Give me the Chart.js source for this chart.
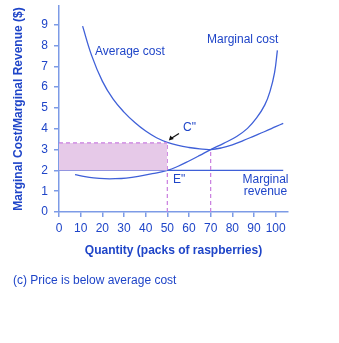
<!DOCTYPE html>
<html>
<head>
<meta charset="utf-8">
<script src="https://cdn.jsdelivr.net/npm/chart.js@4"></script>
<style>
  html, body { margin: 0; padding: 0; background: #fff; }
  #wrap { width: 339px; height: 343px; }
</style>
</head>
<body>
<div id="wrap"><canvas id="costChart" width="339" height="343"></canvas></div>
<script>
// quantity ticks / values
const xTicks = [0, 10, 20, 30, 40, 50, 60, 70, 80, 90, 100];
const yTicks = [0, 1, 2, 3, 4, 5, 6, 7, 8, 9];

const acQty = [10.9, 15, 20, 25, 30, 35, 40, 45, 50, 55, 60, 65, 70, 75, 80, 85, 90, 95, 100, 103.5];
const acCost = [8.93, 7.54, 6.29, 5.42, 4.8, 4.3, 3.89, 3.57, 3.35, 3.2, 3.1, 3.03, 3.0, 3.08, 3.23, 3.43, 3.65, 3.87, 4.1, 4.26];

const mcQty = [7.4, 12, 16, 21, 26, 31, 36.6, 43, 50, 55, 60, 65, 70, 76, 82, 87, 91.2, 95, 97.4, 99.5, 100.8];
const mcCost = [1.8, 1.7, 1.64, 1.6, 1.6, 1.63, 1.71, 1.84, 2.0, 2.2, 2.45, 2.72, 3.0, 3.3, 3.63, 4.02, 4.52, 5.15, 5.8, 6.7, 7.77];

const mrQty = [0, 103.5];
const mrPrice = [2, 2];

const lossQty = [0, 50];
const lossTop = [3.32, 3.32];
const dropQ1 = [50, 50], dropV1 = [0, 3.32];
const dropQ2 = [70, 70], dropV2 = [0, 3.0];

const BLUE = "#3f60d8";
const AXIS = "#7d9be6";
const TEXT = "#1f45c8";
const DASH = "#c97ddf";

function pts(xs, ys) {
    return xs.map((x, i) => ({ x: x, y: ys[i] }));
}

// labels, arrow and caption drawn on top
const notes = {
    id: "notes",
    afterDraw(chart) {
        const ctx = chart.ctx;
        const x = chart.scales.x, y = chart.scales.y;
        ctx.save();
        ctx.fillStyle = TEXT;
        ctx.font = "12px 'Liberation Sans', Arial, sans-serif";
        ctx.textBaseline = "middle";
        ctx.textAlign = "left";
        ctx.fillText("Average cost", 95, 51.5);
        ctx.fillText("Marginal cost", 207, 40);
        ctx.fillText("C\"", 183, 128);
        ctx.fillText("E\"", 173, 180);
        ctx.textAlign = "center";
        ctx.fillText("Marginal", 265.5, 180);
        ctx.fillText("revenue", 265.5, 192);
        ctx.textAlign = "left";
        ctx.fillText("(c) Price is below average cost", 13, 281);

        // arrow to C"
        const tx = x.getPixelForValue(50) + 1.5, ty = y.getPixelForValue(3.36) - 1.5;
        ctx.strokeStyle = "#111";
        ctx.fillStyle = "#111";
        ctx.lineWidth = 1.2;
        ctx.beginPath();
        ctx.moveTo(179, 133.5);
        ctx.lineTo(tx + 3, ty - 2.5);
        ctx.stroke();
        ctx.beginPath();
        ctx.moveTo(tx, ty);
        ctx.lineTo(tx + 1.5, ty - 5);
        ctx.lineTo(tx + 5, ty - 1.5);
        ctx.closePath();
        ctx.fill();
        ctx.restore();
    }
};

const ctx = document.getElementById("costChart").getContext("2d");
new Chart(ctx, {
    type: "line",
    data: {
        datasets: [
            {
                label: "Loss area",
                data: pts(lossQty, lossTop),
                borderColor: DASH,
                borderWidth: 1.2,
                borderDash: [4, 3],
                backgroundColor: "#e6c9e8",
                fill: { value: 2 },
                pointRadius: 0
            },
            {
                label: "Drop at 50",
                data: pts(dropQ1, dropV1),
                borderColor: DASH,
                borderWidth: 1.2,
                borderDash: [4, 3],
                pointRadius: 0,
                fill: false
            },
            {
                label: "Drop at 70",
                data: pts(dropQ2, dropV2),
                borderColor: DASH,
                borderWidth: 1.2,
                borderDash: [4, 3],
                pointRadius: 0,
                fill: false
            },
            {
                label: "Marginal revenue",
                data: pts(mrQty, mrPrice),
                borderColor: BLUE,
                borderWidth: 1.3,
                pointRadius: 0,
                fill: false
            },
            {
                label: "Average cost",
                data: pts(acQty, acCost),
                borderColor: BLUE,
                borderWidth: 1.3,
                pointRadius: 0,
                tension: 0.4,
                fill: false
            },
            {
                label: "Marginal cost",
                data: pts(mcQty, mcCost),
                borderColor: BLUE,
                borderWidth: 1.3,
                pointRadius: 0,
                tension: 0.4,
                fill: false
            }
        ]
    },
    options: {
        responsive: false,
        animation: false,
        events: [],
        layout: { padding: { left: 7, top: 6, right: 51, bottom: 81 } },
        plugins: {
            legend: { display: false },
            tooltip: { enabled: false }
        },
        scales: {
            x: {
                type: "linear",
                min: 0,
                max: 105.7,
                afterBuildTicks: s => { s.ticks = xTicks.map(v => ({ value: v })); },
                afterFit: s => { s.height = 50; },
                grid: { drawOnChartArea: false, drawTicks: true, tickLength: 5, color: AXIS, lineWidth: 1.5 },
                border: { color: AXIS, width: 1.5 },
                ticks: { color: TEXT, font: { size: 12, family: "'Liberation Sans', Arial" }, padding: 4, maxRotation: 0, autoSkip: false },
                title: {
                    display: true,
                    text: "Quantity (packs of raspberries)",
                    color: TEXT,
                    font: { size: 12, weight: "bold", family: "'Liberation Sans', Arial" },
                    padding: { top: 6 }
                }
            },
            y: {
                type: "linear",
                min: 0,
                max: 9.9,
                afterBuildTicks: s => { s.ticks = yTicks.map(v => ({ value: v })); },
                afterFit: s => { s.width = 52; s.paddingTop = 0; s.paddingBottom = 0; },
                grid: { drawOnChartArea: false, drawTicks: true, tickLength: 5, color: AXIS, lineWidth: 1.5 },
                border: { color: AXIS, width: 1.5 },
                ticks: { color: TEXT, font: { size: 12, family: "'Liberation Sans', Arial" }, padding: 6, autoSkip: false },
                title: {
                    display: true,
                    text: "Marginal Cost/Marginal Revenue ($)",
                    color: TEXT,
                    font: { size: 12, weight: "bold", family: "'Liberation Sans', Arial" },
                    padding: { top: 4 }
                }
            }
        }
    },
    plugins: [notes]
});
</script>
</body>
</html>
